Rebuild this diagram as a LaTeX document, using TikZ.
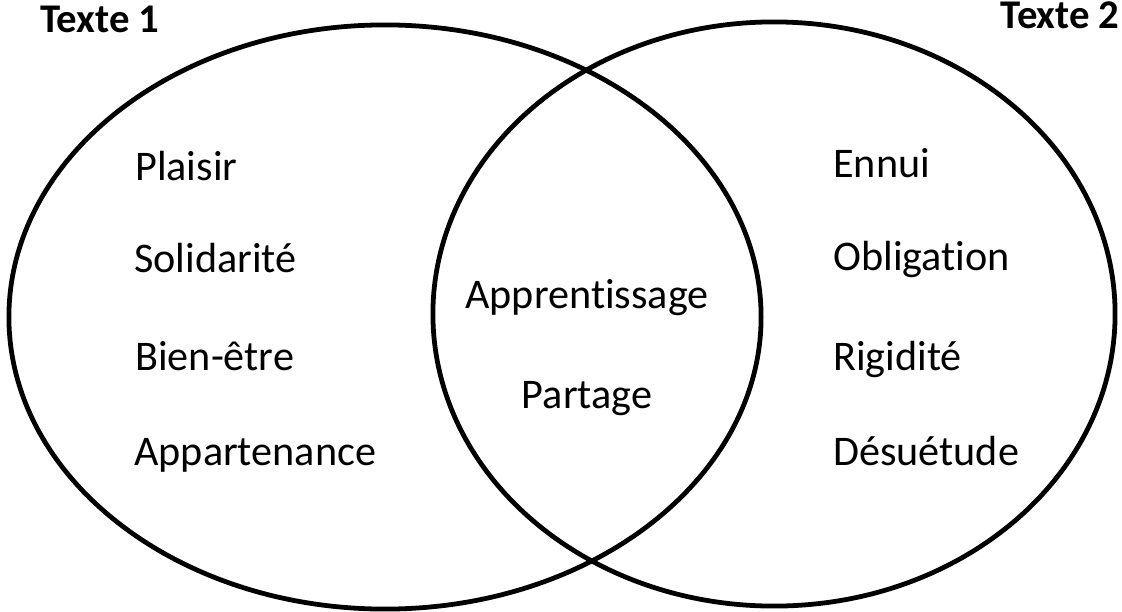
\documentclass[tikz,border=0pt]{standalone}
\usepackage{fontspec}
\setmainfont{Carlito}[Ligatures=NoCommon]
\usepackage{tikz}
\usetikzlibrary{shapes.geometric}

\begin{document}
\begin{tikzpicture}[x=0.025cm, y=-0.025cm,
    every node/.style={inner sep=0pt, font=\fontsize{30}{36}\selectfont},
    setring/.style={draw, ellipse, line width=3.4pt, minimum height=14.6cm},
    word/.style={anchor=base west},
    settitle/.style={anchor=base west, font=\fontsize{29}{35}\selectfont\bfseries}]
      \useasboundingbox (0,0) rectangle (1122,611);
      % Sets
      \node[setring, minimum width=18.8cm] (set1) at (385,317) {};
      \node[setring, minimum width=17.05cm] (set2) at (774,314) {};
      % Titles
      \node[settitle] (title1) at (40,33) {Texte 1};
      \node[settitle, anchor=base east] (title2) at (1120,29) {Texte 2};
      % Texte 1 only
      \node[word] (plaisir) at (135,180) {Plaisir};
      \node[word] (solidarite) at (134,272) {Solidarité};
      \node[word] (bienetre) at (135,370) {Bien-être};
      \node[word] (appartenance) at (134,465) {Appartenance};
      % Both
      \node[anchor=base] (apprentissage) at (587,308) {Apprentissage};
      \node[anchor=base] (partage) at (587,408) {Partage};
      % Texte 2 only
      \node[word] (ennui) at (833,177) {Ennui};
      \node[word] (obligation) at (833,270) {Obligation};
      \node[word] (rigidite) at (833,370) {Rigidité};
      \node[word] (desuetude) at (833,465) {Désuétude};
    \end{tikzpicture}
\end{document}
